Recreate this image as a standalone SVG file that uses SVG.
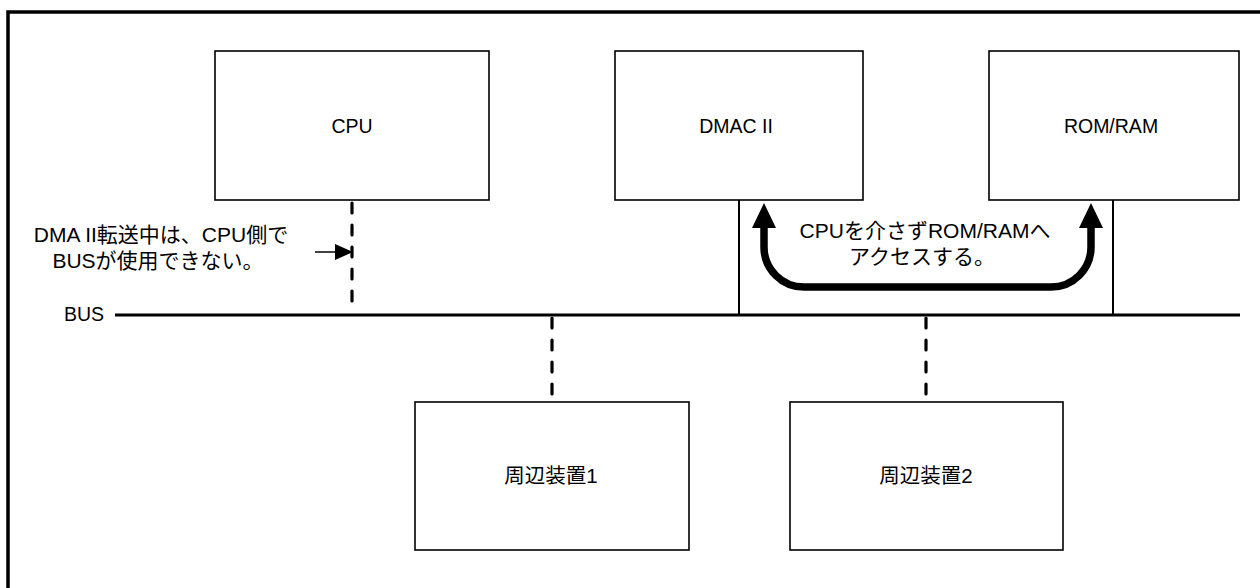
<svg xmlns="http://www.w3.org/2000/svg" width="1260" height="588" viewBox="0 0 1260 588">
  <style>
    .box { fill: #ffffff; stroke: #000000; stroke-width: 1.6; }
    .lbl { font-family: "Liberation Sans", "Noto Sans CJK JP", sans-serif; font-size: 19.5px; fill: #000000; text-anchor: middle; }
    .jp { font-family: "Liberation Sans", "Noto Sans CJK JP", sans-serif; font-size: 20.5px; fill: #000000; text-anchor: middle; }
    .note { font-family: "Liberation Sans", "Noto Sans CJK JP", sans-serif; font-size: 21px; fill: #000000; text-anchor: middle; }
    .dash { fill: none; stroke: #000000; stroke-width: 3.2; stroke-dasharray: 10 12; stroke-linecap: round; }
    .solid { fill: none; stroke: #000000; stroke-width: 2; }
  </style>
  <rect x="0" y="0" width="1260" height="588" fill="#ffffff"/>
  <path d="M8,700 V12 H1300" fill="none" stroke="#000000" stroke-width="3.5"/>

  <g id="connectors">
    <line id="bus" x1="115" y1="315" x2="1240" y2="315" stroke="#000000" stroke-width="3"/>
    <line class="dash" x1="352" y1="203" x2="352" y2="313"/>
    <line class="dash" x1="552" y1="318" x2="552" y2="401"/>
    <line class="dash" x1="926" y1="318" x2="926" y2="401"/>
    <line class="solid" x1="739" y1="200" x2="739" y2="315"/>
    <line class="solid" x1="1113" y1="200" x2="1113" y2="315"/>
    <g id="access-arrow">
      <path d="M764,226 V247 A40,40 0 0 0 804,287 H1051 A40,40 0 0 0 1091,247 V226" fill="none" stroke="#000000" stroke-width="7.5"/>
      <polygon points="764,203 752,228 776,228" fill="#000000"/>
      <polygon points="1091,203 1079,228 1103,228" fill="#000000"/>
    </g>
    <g id="note-arrow">
      <line x1="315" y1="252" x2="338" y2="252" stroke="#000000" stroke-width="1.5"/>
      <polygon points="353,252 335,244 335,260" fill="#000000"/>
    </g>
  </g>

  <g id="cpu">
    <rect class="box" x="215" y="51" width="274" height="149"/>
    <text class="lbl" x="352" y="133">CPU</text>
  </g>
  <g id="dmac">
    <rect class="box" x="615" y="51" width="248" height="149"/>
    <text class="lbl" x="736" y="133">DMAC II</text>
  </g>
  <g id="romram">
    <rect class="box" x="989" y="51" width="250" height="149"/>
    <text class="lbl" x="1111" y="133">ROM/RAM</text>
  </g>
  <g id="periph1">
    <rect class="box" x="415" y="402" width="274" height="148"/>
    <text class="jp" x="551" y="483">周辺装置1</text>
  </g>
  <g id="periph2">
    <rect class="box" x="790" y="402" width="273" height="148"/>
    <text class="jp" x="926" y="483">周辺装置2</text>
  </g>
  <g id="bus-label">
    <text class="lbl" x="84" y="321">BUS</text>
  </g>
  <g id="note-left">
    <text class="note" x="161" y="242">DMA II転送中は、CPU側で</text>
    <text class="note" x="158" y="268">BUSが使用できない。</text>
  </g>
  <g id="note-access">
    <text class="note" x="925" y="238">CPUを介さずROM/RAMへ</text>
    <text class="note" x="922" y="264">アクセスする。</text>
  </g>
</svg>
